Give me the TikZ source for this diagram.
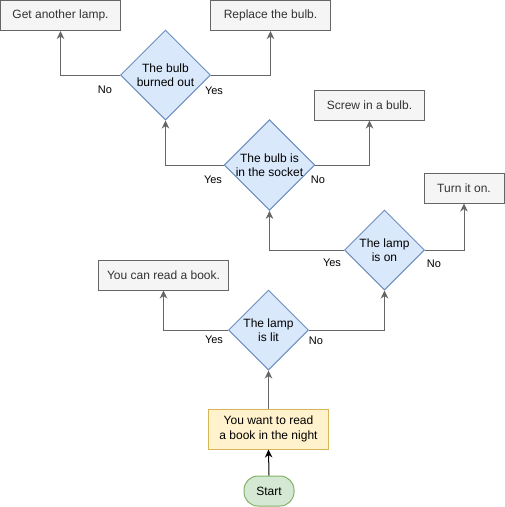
\documentclass[tikz,border=0pt]{standalone}
\usepackage{fontspec}
\setmainfont{Liberation Sans}
\usetikzlibrary{shapes.geometric,arrows.meta}
\definecolor{boxfill}{HTML}{F5F5F5}
\definecolor{boxline}{HTML}{666666}
\definecolor{boxtext}{HTML}{333333}
\definecolor{decfill}{HTML}{DAE8FC}
\definecolor{decline}{HTML}{6C8EBF}
\definecolor{wantfill}{HTML}{FFF2CC}
\definecolor{wantline}{HTML}{D6B656}
\definecolor{startfill}{HTML}{D5E8D4}
\definecolor{startline}{HTML}{82B366}
\tikzset{
  actbox/.style={rectangle, draw=boxline, fill=boxfill, text=boxtext, line width=1pt, inner sep=0pt, minimum height=30pt, font=\fontsize{12pt}{14.5pt}\selectfont},
  decbox/.style={diamond, aspect=1, draw=decline, fill=decfill, line width=1pt, inner sep=0pt, align=center, font=\fontsize{12pt}{14.5pt}\selectfont},
  wantbox/.style={rectangle, draw=wantline, fill=wantfill, line width=1pt, inner sep=0pt, align=center, minimum width=120pt, minimum height=40pt, font=\fontsize{12pt}{14.5pt}\selectfont},
  startbox/.style={rectangle, rounded corners=14pt, draw=startline, fill=startfill, line width=1pt, inner sep=0pt, minimum width=50pt, minimum height=30pt, font=\fontsize{12pt}{14.5pt}\selectfont},
  conn/.style={draw=boxline, line width=1pt, -{Stealth[length=8pt,width=7.5pt,inset=2.5pt]}},
  startconn/.style={draw=black, line width=1pt, -{Stealth[length=8pt,width=7.5pt,inset=2.5pt]}},
  lbl/.style={inner sep=0pt, font=\fontsize{11pt}{13pt}\selectfont}
}
\begin{document}
\begin{tikzpicture}[x=1pt,y=-1pt]
\useasboundingbox (0,0) rectangle (505,507);
\fill[white] (0,0) rectangle (505,507);
% nodes
\node[actbox, minimum width=120pt] (lamp) at (60.5,15.5) {Get another lamp.};
\node[actbox, minimum width=120pt] (bulb) at (270.5,15.5) {Replace the bulb.};
\node[decbox, minimum width=90pt, minimum height=90pt] (d1) at (165.5,75) {The bulb\\burned out};
\node[actbox, minimum width=110pt] (screw) at (369.5,105) {Screw in a bulb.};
\node[decbox, minimum width=90pt, minimum height=90pt] (d2) at (269.5,165) {The bulb is\\in the socket};
\node[actbox, minimum width=80pt] (turn) at (464,188) {Turn it on.};
\node[decbox, minimum width=80pt, minimum height=80pt] (d3) at (384.5,250) {The lamp\\is on};
\node[actbox, minimum width=130pt] (read) at (163.5,275) {You can read a book.};
\node[decbox, minimum width=80pt, minimum height=80pt] (d4) at (268.5,330) {The lamp\\is lit};
\node[wantbox] (want) at (268.5,429) {You want to read\\a book in the night};
\node[startbox] (start) at (269,491) {Start};
% connectors
\draw[conn] (d1.west) -| (lamp.south);
\draw[conn] (d1.east) -| (bulb.south);
\draw[conn] (d2.west) -| (d1.south);
\draw[conn] (d2.east) -| (screw.south);
\draw[conn] (d3.west) -| (d2.south);
\draw[conn] (d3.east) -| (turn.south);
\draw[conn] (d4.west) -| (read.south);
\draw[conn] (d4.east) -| (d3.south);
\draw[conn] (want.north) -- (d4.south);
\draw[startconn] (start.north) -- (want.south);
% labels
\node[lbl] (l1n) at (105,90) {No};
\node[lbl] (l1y) at (214,91) {Yes};
\node[lbl] (l2y) at (213,179.5) {Yes};
\node[lbl] (l2n) at (318,179.5) {No};
\node[lbl] (l3y) at (332,262.5) {Yes};
\node[lbl] (l3n) at (434,263.5) {No};
\node[lbl] (l4y) at (214,339.5) {Yes};
\node[lbl] (l4n) at (316,340.5) {No};
\end{tikzpicture}
\end{document}
